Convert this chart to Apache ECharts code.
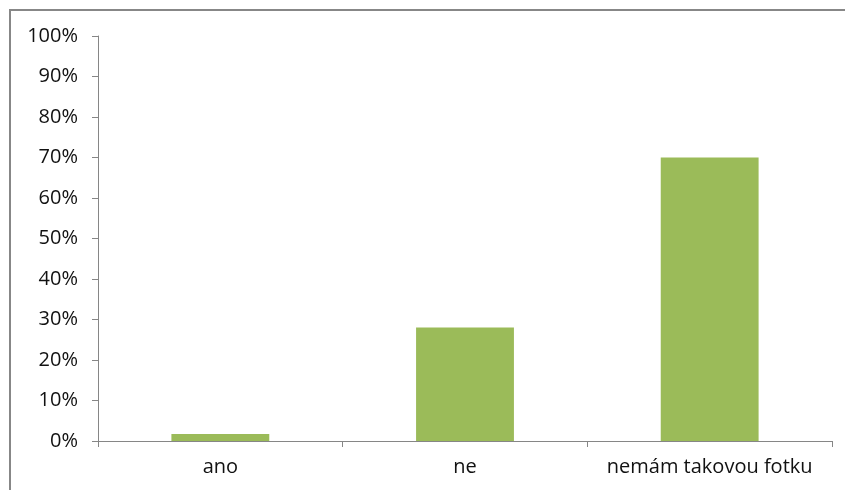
<!DOCTYPE html>
<html>
<head>
<meta charset="utf-8">
<script src="https://cdn.jsdelivr.net/npm/echarts@6/dist/echarts.min.js"></script>
<style>
	html, body { margin: 0; padding: 0; background: #fff; }
	#chart { width: 845px; height: 490px; }
</style>
</head>
<body>
<div id="chart"></div>
<script>
	var categories = ['ano', 'ne', 'nemám takovou fotku'];
	var values = [1.7, 28, 70];
	var yTicks = { min: 0, max: 100, interval: 10 };

	var myChart = echarts.init(document.getElementById('chart'));
	var option = {
		animation: false,
		backgroundColor: '#fff',
		textStyle: { fontFamily: 'Open Sans' },
		graphic: [{
			type: 'rect',
			shape: { x: 10, y: 10, width: 900, height: 600 },
			style: { fill: 'none', stroke: '#878787', lineWidth: 2 }
		}],
		grid: { left: 98, right: 13, top: 36, bottom: 49 },
		xAxis: {
			type: 'category',
			data: categories,
			axisLine: { lineStyle: { color: '#868686', width: 1 } },
			axisTick: { show: true, length: 6, lineStyle: { color: '#868686' } },
			axisLabel: { color: '#111', fontSize: 20, margin: 16, interval: 0, hideOverlap: false }
		},
		yAxis: {
			type: 'value',
			min: yTicks.min,
			max: yTicks.max,
			interval: yTicks.interval,
			axisLine: { show: true, lineStyle: { color: '#868686', width: 1 } },
			axisTick: { show: true, length: 6, lineStyle: { color: '#868686' } },
			splitLine: { show: false },
			axisLabel: { color: '#111', fontSize: 20, margin: 20, formatter: '{value}%' }
		},
		series: [{
			type: 'bar',
			data: values,
			barCategoryGap: '60%',
			itemStyle: { color: '#9BBB59' }
		}]
	};
	myChart.setOption(option);
</script>
</body>
</html>
